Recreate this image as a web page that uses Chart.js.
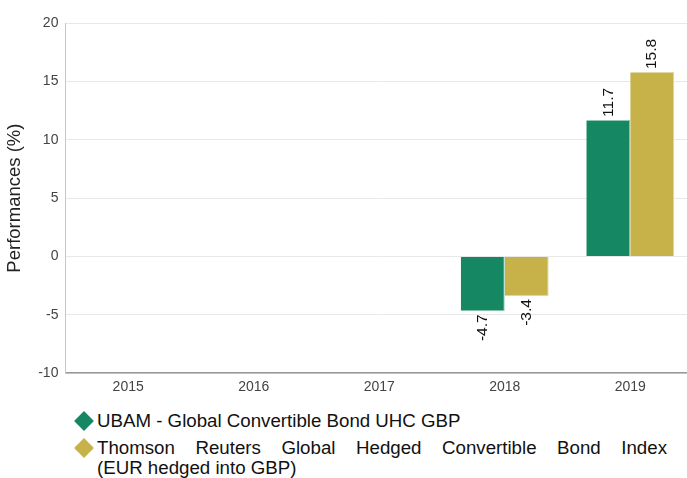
<!DOCTYPE html>
<html><head><meta charset="utf-8">
<script src="https://cdn.jsdelivr.net/npm/chart.js@4/dist/chart.umd.min.js"></script>
<style>
html,body{margin:0;padding:0;background:#fff;width:687px;height:478px;overflow:hidden;font-family:"Liberation Sans",Arial,sans-serif}
#wrap{position:absolute;left:0;top:0;width:693px;height:402px}
#legend{position:absolute;left:74px;top:411px;width:600px;font-size:18.7px;line-height:20px;color:#111}
.item{position:relative;padding-left:23px}
.dia{position:absolute;left:3px;top:3px;width:14px;height:14px;transform:rotate(45deg)}
.just{display:block;text-align:justify;text-align-last:justify;width:570px}
</style></head><body>
<div id="wrap"><canvas id="c"></canvas></div>
<div id="legend"></div>
<script>
const categories = ["2015","2016","2017","2018","2019"];
const seriesNames = ["UBAM - Global Convertible Bond UHC GBP","Thomson Reuters Global Hedged Convertible Bond Index (EUR hedged into GBP)"];
const legendLines = [["UBAM - Global Convertible Bond UHC GBP"],["Thomson Reuters Global Hedged Convertible Bond Index","(EUR hedged into GBP)"]];
const fundValues = [null,null,null,-4.7,11.7];
const indexValues = [null,null,null,-3.4,15.8];
const colors = ["#158763","#c6b248"];

const labelPlugin = {
  id:'vlabels',
  afterDatasetsDraw(chart){
    const ctx = chart.ctx;
    ctx.save();
    ctx.font = '15.5px "Liberation Sans", Arial, sans-serif';
    ctx.fillStyle = '#111';
    ctx.textBaseline = 'middle';
    chart.data.datasets.forEach((ds,i)=>{
      const meta = chart.getDatasetMeta(i);
      meta.data.forEach((bar,j)=>{
        const v = ds.data[j];
        if(v===null||v===undefined) return;
        ctx.save();
        ctx.translate(bar.x, bar.y);
        ctx.rotate(-Math.PI/2);
        if(v>=0){ ctx.textAlign='left'; ctx.fillText(v.toFixed(1), 3, 0); }
        else { ctx.textAlign='right'; ctx.fillText(v.toFixed(1), -3, 0); }
        ctx.restore();
      });
    });
    ctx.restore();
  }
};

new Chart(document.getElementById('c'),{
  type:'bar',
  data:{labels:categories,datasets:[
    {label:seriesNames[0],data:fundValues,backgroundColor:colors[0],borderColor:'#8fc9b5',borderWidth:{top:1,bottom:1,left:0,right:1}},
    {label:seriesNames[1],data:indexValues,backgroundColor:colors[1],borderColor:'#e2d8a3',borderWidth:{top:1,bottom:1,left:0,right:1}}
  ]},
  options:{
    responsive:true,maintainAspectRatio:false,animation:false,
    layout:{padding:{left:4,right:0,top:23,bottom:0}},
    plugins:{legend:{display:false},tooltip:{enabled:false}},
    datasets:{bar:{barPercentage:1,categoryPercentage:0.7}},
    scales:{
      x:{grid:{display:false,drawTicks:false},border:{color:'#999',width:1.5},
         ticks:{color:'#444',font:{size:14,family:'"Liberation Sans", Arial, sans-serif'},padding:6}},
      y:{min:-10,max:20,grid:{color:'#e8e8e8',drawTicks:false},border:{color:'#c8c8c8'},
         ticks:{stepSize:5,color:'#444',font:{size:14,family:'"Liberation Sans", Arial, sans-serif'},padding:7},
         title:{display:true,text:'Performances (%)',color:'#222',font:{size:18.5,family:'"Liberation Sans", Arial, sans-serif'},padding:{top:0,bottom:5}}}
    }
  },
  plugins:[labelPlugin]
});

const lg = document.getElementById('legend');
legendLines.forEach((lines,i)=>{
  const d = document.createElement('div'); d.className='item';
  const s = document.createElement('span'); s.className='dia'; s.style.background=colors[i];
  d.appendChild(s);
  lines.forEach((ln,k)=>{
    const t = document.createElement('div');
    if(lines.length>1 && k===0) t.className='just';
    t.textContent = ln;
    d.appendChild(t);
  });
  if(i===1) d.style.marginTop='7px';
  lg.appendChild(d);
});
</script>
</body></html>
